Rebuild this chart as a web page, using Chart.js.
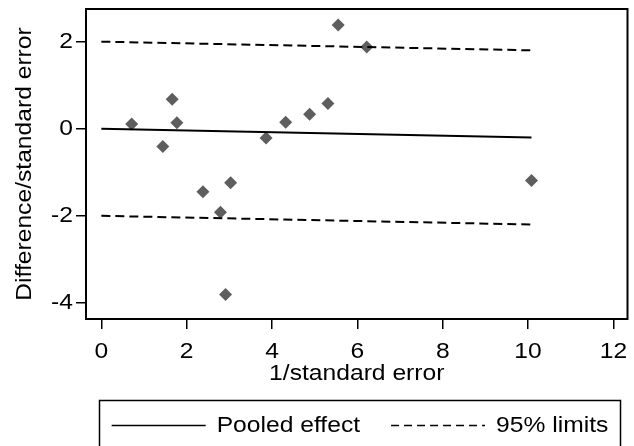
<!DOCTYPE html>
<html>
<head>
<meta charset="utf-8">
<script src="https://cdn.jsdelivr.net/npm/chart.js@4"></script>
<style>
  html, body { margin: 0; padding: 0; background: #fff; }
  #wrap { width: 634px; height: 446px; }
</style>
</head>
<body>
<div id="wrap"><canvas id="galbraith" width="634" height="446"></canvas></div>
<script>
// study points: precision (1/SE) and standardised difference
var PRECISION = [0.71, 1.44, 1.66, 1.77, 2.38, 2.79, 2.91, 3.03, 3.86, 4.32, 4.88, 5.31, 5.55, 6.22, 10.08];
var STD_DIFF  = [0.11, -0.41, 0.68, 0.14, -1.45, -1.92, -3.81, -1.24, -0.21, 0.15, 0.33, 0.58, 2.38, 1.88, -1.19];

// pooled effect line and its 95% limits, from x = 0 to the largest precision
var LINE_X   = [0, 10.08];
var POOLED_Y = [0, -0.20];
var UPPER_Y  = [2, 1.80];
var LOWER_Y  = [-2, -2.20];

var X_TICKS = [0, 2, 4, 6, 8, 10, 12];
var Y_TICKS = [-4, -2, 0, 2];
var LEGEND_LABELS = ['Pooled effect', '95% limits'];

var FONT = '"Liberation Sans", Arial, Helvetica, sans-serif';
var FSIZE = 22;
var WIDEN = 1.12;   // horizontal stretch of the lettering
var DASH = [9, 5];

function pairs(xs, ys) {
  return xs.map(function(x, i) { return {x: x, y: ys[i]}; });
}

/* draw all text a little wider, scaled about its anchor point */
var widePlugin = {
  id: 'wideText',
  beforeDraw: function(chart) {
    var ctx = chart.ctx;
    if (ctx._wide) return;
    var fill = ctx.fillText;
    ctx.fillText = function(text, x, y) {
      this.save();
      this.translate(x, y);
      this.scale(WIDEN, 1);
      fill.call(this, text, 0, 0);
      this.restore();
    };
    ctx._wide = true;
  }
};

/* box around the plot region */
var framePlugin = {
  id: 'frame',
  afterDraw: function(chart) {
    var a = chart.chartArea, ctx = chart.ctx;
    ctx.save();
    ctx.strokeStyle = '#000';
    ctx.lineWidth = 2;
    ctx.strokeRect(a.left, a.top, a.right - a.left, a.bottom - a.top);
    ctx.restore();
  }
};

/* boxed legend below the x axis */
var legendPlugin = {
  id: 'boxLegend',
  afterDraw: function(chart) {
    var ctx = chart.ctx;
    var ds = chart.data.datasets;
    var boxL = 99.5, boxR = 620.5, boxT = 400.5, y = 425.5;
    var lineW = 94, gapA = 11, gapB = 31;
    ctx.save();
    ctx.font = FSIZE + 'px ' + FONT;
    var w1 = ctx.measureText(LEGEND_LABELS[0]).width * WIDEN;
    var w2 = ctx.measureText(LEGEND_LABELS[1]).width * WIDEN;
    var total = lineW + gapA + w1 + gapB + lineW + gapA + w2;
    var x = (boxL + boxR) / 2 - total / 2;

    ctx.strokeStyle = '#000';
    ctx.lineWidth = 1.5;
    ctx.strokeRect(boxL, boxT, boxR - boxL, 80);

    [ds[0], ds[1]].forEach(function(d, i) {
      ctx.beginPath();
      ctx.setLineDash(i === 0 ? [] : [8, 5]);
      ctx.lineWidth = 1.5;
      ctx.strokeStyle = d.borderColor;
      ctx.moveTo(x, y);
      ctx.lineTo(x + lineW, y);
      ctx.stroke();
      ctx.setLineDash([]);
      x += lineW + gapA;
      ctx.fillStyle = '#000';
      ctx.textBaseline = 'middle';
      ctx.textAlign = 'left';
      ctx.fillText(LEGEND_LABELS[i], x, y + 0.5);
      x += (i === 0 ? w1 : w2) + gapB;
    });
    ctx.restore();
  }
};

new Chart(document.getElementById('galbraith'), {
  type: 'scatter',
  data: {
    datasets: [
      {
        label: LEGEND_LABELS[0],
        data: pairs(LINE_X, POOLED_Y),
        showLine: true, pointRadius: 0,
        borderColor: '#000', borderWidth: 2
      },
      {
        label: LEGEND_LABELS[1],
        data: pairs(LINE_X, UPPER_Y),
        showLine: true, pointRadius: 0,
        borderColor: '#000', borderWidth: 2, borderDash: DASH
      },
      {
        label: LEGEND_LABELS[1],
        data: pairs(LINE_X, LOWER_Y),
        showLine: true, pointRadius: 0,
        borderColor: '#000', borderWidth: 2, borderDash: DASH
      },
      {
        label: 'Studies',
        data: pairs(PRECISION, STD_DIFF),
        pointStyle: 'rectRot', pointRadius: 6.5,
        backgroundColor: '#5e5e5e', borderWidth: 0
      }
    ]
  },
  options: {
    responsive: false,
    animation: false,
    devicePixelRatio: 1,
    layout: { padding: { top: 9, right: 1, left: 0, bottom: 56 } },
    plugins: { legend: { display: false }, tooltip: { enabled: false } },
    scales: {
      x: {
        type: 'linear', min: -0.36, max: 12.33,
        afterBuildTicks: function(s) { s.ticks = X_TICKS.map(function(v) { return {value: v}; }); },
        afterFit: function(s) { s.height = 71; s.paddingLeft = 0; s.paddingRight = 0; },
        grid: { drawOnChartArea: false, drawTicks: true, tickLength: 10, color: '#000', lineWidth: 1.5 },
        border: { display: false },
        ticks: { color: '#000', font: { family: FONT, size: FSIZE }, padding: 9.5, maxRotation: 0, autoSkip: false },
        title: { display: true, text: '1/standard error', color: '#000',
                 font: { family: FONT, size: FSIZE }, padding: { top: 0, bottom: 3 } }
      },
      y: {
        type: 'linear', min: -4.37, max: 2.75,
        afterBuildTicks: function(s) { s.ticks = Y_TICKS.map(function(v) { return {value: v}; }); },
        afterFit: function(s) { s.width = 86; s.paddingTop = 0; s.paddingBottom = 0; },
        grid: { drawOnChartArea: false, drawTicks: true, tickLength: 10, color: '#000', lineWidth: 1.5 },
        border: { display: false },
        ticks: { color: '#000', font: { family: FONT, size: FSIZE }, padding: 3, autoSkip: false },
        title: { display: true, text: 'Difference/standard error', color: '#000',
                 font: { family: FONT, size: FSIZE }, padding: { top: 11.5, bottom: 0 } }
      }
    }
  },
  plugins: [widePlugin, framePlugin, legendPlugin]
});
</script>
</body>
</html>
